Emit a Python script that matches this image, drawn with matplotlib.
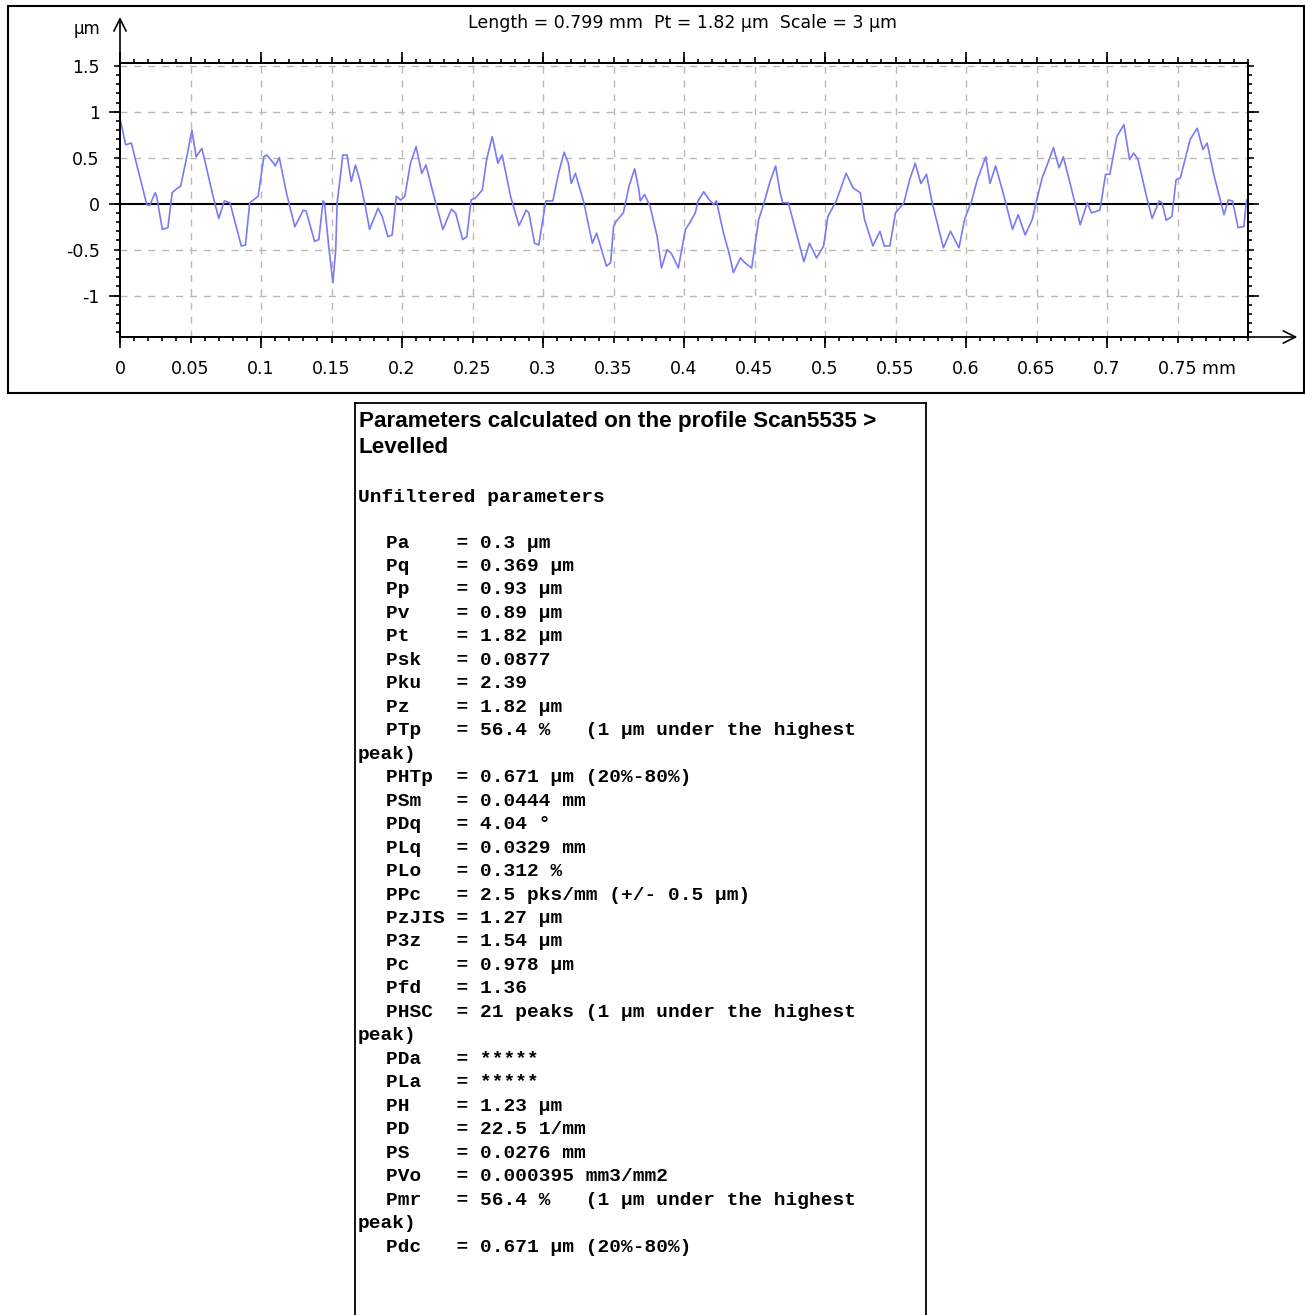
import matplotlib
matplotlib.use("Agg")
import matplotlib.pyplot as plt
from matplotlib.lines import Line2D
from matplotlib.ticker import MultipleLocator
from matplotlib.transforms import ScaledTranslation

W, H = 1305, 1315

# profile (mm, um)
profile_x = [
    0.000, 0.004, 0.008, 0.019, 0.021, 0.025, 0.026, 0.030, 0.034, 0.037,
    0.040, 0.043, 0.047, 0.051, 0.054, 0.058, 0.060, 0.066, 0.070, 0.074,
    0.078, 0.086, 0.089, 0.092, 0.098, 0.102, 0.104, 0.109, 0.110, 0.113,
    0.118, 0.124, 0.130, 0.132, 0.138, 0.141, 0.144, 0.145, 0.148, 0.151,
    0.153, 0.154, 0.156, 0.158, 0.161, 0.164, 0.167, 0.170, 0.174, 0.177,
    0.183, 0.186, 0.190, 0.193, 0.196, 0.199, 0.202, 0.206, 0.210, 0.214,
    0.217, 0.222, 0.229, 0.235, 0.238, 0.243, 0.246, 0.249, 0.252, 0.257,
    0.260, 0.264, 0.268, 0.271, 0.277, 0.283, 0.288, 0.290, 0.294, 0.297,
    0.302, 0.307, 0.311, 0.315, 0.318, 0.320, 0.323, 0.329, 0.333, 0.335,
    0.338, 0.345, 0.348, 0.350, 0.352, 0.357, 0.361, 0.365, 0.368, 0.369,
    0.372, 0.376, 0.381, 0.384, 0.388, 0.391, 0.396, 0.401, 0.404, 0.408,
    0.410, 0.414, 0.418, 0.421, 0.423, 0.428, 0.432, 0.435, 0.440, 0.443,
    0.448, 0.453, 0.456, 0.461, 0.465, 0.468, 0.470, 0.474, 0.479, 0.485,
    0.489, 0.494, 0.499, 0.502, 0.508, 0.515, 0.520, 0.525, 0.528, 0.534,
    0.539, 0.542, 0.546, 0.550, 0.556, 0.560, 0.564, 0.568, 0.572, 0.576,
    0.584, 0.589, 0.595, 0.599, 0.604, 0.608, 0.614, 0.617, 0.621, 0.627,
    0.633, 0.637, 0.642, 0.647, 0.650, 0.654, 0.659, 0.662, 0.666, 0.669,
    0.675, 0.681, 0.686, 0.689, 0.695, 0.699, 0.702, 0.707, 0.712, 0.716,
    0.719, 0.722, 0.728, 0.732, 0.737, 0.739, 0.742, 0.746, 0.749, 0.752,
    0.759, 0.764, 0.768, 0.771, 0.776, 0.783, 0.786, 0.789, 0.793, 0.797,
    0.799,
]
profile_y = [
    0.93, 0.64, 0.66, -0.01, -0.02, 0.12, 0.08, -0.28, -0.26, 0.12,
    0.16, 0.19, 0.48, 0.80, 0.51, 0.60, 0.48, 0.08, -0.16, 0.03,
    0.01, -0.46, -0.45, 0.01, 0.08, 0.51, 0.53, 0.44, 0.41, 0.50,
    0.12, -0.25, -0.07, -0.08, -0.41, -0.39, 0.03, 0.01, -0.46, -0.86,
    -0.50, 0.01, 0.26, 0.53, 0.53, 0.24, 0.42, 0.26, -0.03, -0.28,
    -0.05, -0.14, -0.36, -0.34, 0.08, 0.04, 0.08, 0.44, 0.62, 0.33,
    0.42, 0.12, -0.28, -0.06, -0.10, -0.39, -0.36, 0.04, 0.06, 0.15,
    0.48, 0.73, 0.44, 0.53, 0.08, -0.24, -0.07, -0.10, -0.43, -0.45,
    0.03, 0.03, 0.33, 0.56, 0.44, 0.22, 0.33, 0.01, -0.28, -0.43,
    -0.32, -0.68, -0.64, -0.25, -0.19, -0.10, 0.19, 0.38, 0.15, 0.03,
    0.10, -0.03, -0.36, -0.70, -0.50, -0.54, -0.70, -0.28, -0.21, -0.10,
    0.03, 0.13, 0.04, -0.01, 0.03, -0.32, -0.54, -0.75, -0.59, -0.64,
    -0.70, -0.17, -0.03, 0.24, 0.41, 0.13, 0.01, 0.01, -0.28, -0.63,
    -0.43, -0.59, -0.46, -0.14, 0.03, 0.33, 0.17, 0.12, -0.17, -0.46,
    -0.30, -0.46, -0.46, -0.10, 0.01, 0.26, 0.44, 0.22, 0.32, 0.01,
    -0.48, -0.30, -0.48, -0.17, 0.03, 0.26, 0.51, 0.22, 0.41, 0.08,
    -0.28, -0.12, -0.34, -0.17, 0.03, 0.28, 0.48, 0.61, 0.39, 0.51,
    0.15, -0.23, 0.01, -0.10, -0.07, 0.32, 0.32, 0.73, 0.86, 0.48,
    0.55, 0.48, 0.08, -0.16, 0.03, 0.01, -0.18, -0.14, 0.26, 0.28,
    0.70, 0.82, 0.59, 0.66, 0.30, -0.12, 0.04, 0.03, -0.26, -0.25,
    0.04,
]

x_ticks = [0, 0.05, 0.1, 0.15, 0.2, 0.25, 0.3, 0.35, 0.4, 0.45, 0.5,
           0.55, 0.6, 0.65, 0.7, 0.75]
x_tick_labels = ["0", "0.05", "0.1", "0.15", "0.2", "0.25", "0.3", "0.35",
                 "0.4", "0.45", "0.5", "0.55", "0.6", "0.65", "0.7", "0.75 mm"]
x_long_ticks = [0, 0.1, 0.2, 0.3, 0.4, 0.5, 0.6, 0.7]
y_ticks = [-1, -0.5, 0, 0.5, 1, 1.5]
y_tick_labels = ["-1", "-0.5", "0", "0.5", "1", "1.5"]
y_long_ticks = [-1, 0, 1]

header = "Length = 0.799 mm  Pt = 1.82 µm  Scale = 3 µm"

box_title = ["Parameters calculated on the profile Scan5535 >", "Levelled"]
section = "Unfiltered parameters"
param_names = ["Pa", "Pq", "Pp", "Pv", "Pt", "Psk", "Pku", "Pz", "PTp",
               "PHTp", "PSm", "PDq", "PLq", "PLo", "PPc", "PzJIS", "P3z",
               "Pc", "Pfd", "PHSC", "PDa", "PLa", "PH", "PD", "PS", "PVo",
               "Pmr", "Pdc"]
param_values = ["0.3 µm", "0.369 µm", "0.93 µm", "0.89 µm", "1.82 µm",
                "0.0877", "2.39", "1.82 µm",
                "56.4 %   (1 µm under the highest peak)",
                "0.671 µm (20%-80%)", "0.0444 mm", "4.04 °", "0.0329 mm",
                "0.312 %", "2.5 pks/mm (+/- 0.5 µm)", "1.27 µm", "1.54 µm",
                "0.978 µm", "1.36",
                "21 peaks (1 µm under the highest peak)",
                "*****", "*****", "1.23 µm", "22.5 1/mm", "0.0276 mm",
                "0.000395 mm3/mm2",
                "56.4 %   (1 µm under the highest peak)",
                "0.671 µm (20%-80%)"]


def fx(px):
    return px / W


def fy(py):
    return 1 - py / H


fig = plt.figure(figsize=(W / 100, H / 100), dpi=100)
fig.patch.set_facecolor("white")

# frame around the profile panel
fig.add_artist(plt.Rectangle((fx(8), fy(393)), fx(1304) - fx(8), fy(6) - fy(393),
                             fill=False, ec="black", lw=1.5,
                             transform=fig.transFigure))

ax = fig.add_axes([fx(120), fy(337), (1248 - 120) / W, (337 - 63) / H])
ax_x = ax.twiny()
ax_y = ax.twinx()

xlim = (0, 0.8)
ylim = (-1.45, 1.53)
for a in (ax, ax_x, ax_y):
    a.set_xlim(xlim)
    a.set_ylim(ylim)

ax.plot(profile_x, profile_y, color="#7a7af2", lw=1.2, zorder=3)
ax.axhline(0, color="black", lw=1.5, zorder=2)

grid_kw = dict(color="#b8b8b8", lw=1.0, ls=(0, (5, 5)), zorder=1)
for gx in x_ticks[1:]:
    ax.axvline(gx, **grid_kw)
for gy in y_ticks:
    if gy != 0:
        ax.axhline(gy, **grid_kw)

ax.set_xticks(x_ticks, labels=x_tick_labels)
ax.set_yticks(y_ticks, labels=y_tick_labels)
ax.xaxis.set_minor_locator(MultipleLocator(0.01))
ax.yaxis.set_minor_locator(MultipleLocator(0.1))
ax.tick_params(axis="x", which="major", direction="out", top=True, bottom=True,
               length=4.5, width=1.2, pad=12, labelsize=12.5)
ax.tick_params(axis="x", which="minor", direction="out", top=True, bottom=True,
               length=2.8, width=1.2)
ax.tick_params(axis="y", which="major", direction="out", left=True, right=True,
               length=4.5, width=1.2, pad=10, labelsize=12.5)
ax.tick_params(axis="y", which="minor", direction="out", left=True, right=True,
               length=2.8, width=1.2)

ax_x.set_xticks(x_long_ticks)
ax_x.tick_params(axis="x", direction="out", top=True, bottom=True,
                 labeltop=False, labelbottom=False, length=8, width=1.2)
ax_y.set_yticks(y_long_ticks)
ax_y.tick_params(axis="y", direction="out", left=True, right=True,
                 labelleft=False, labelright=False, length=8, width=1.2)

for a in (ax, ax_x, ax_y):
    for s in a.spines.values():
        s.set_linewidth(1.3)

last = ax.get_xticklabels()[-1]
last.set_horizontalalignment("left")
last.set_transform(last.get_transform()
                   + ScaledTranslation(-0.2, 0, fig.dpi_scale_trans))

# axis arrows
ax.annotate("", xy=(0, 2.03), xytext=(0, ylim[1]), xycoords="data",
            arrowprops=dict(arrowstyle="->", lw=1.2, color="black",
                            mutation_scale=22, shrinkA=0, shrinkB=0),
            annotation_clip=False)
ax.annotate("", xy=(0.835, ylim[0]), xytext=(xlim[1], ylim[0]), xycoords="data",
            arrowprops=dict(arrowstyle="->", lw=1.2, color="black",
                            mutation_scale=22, shrinkA=0, shrinkB=0),
            annotation_clip=False)

fig.text(fx(87), fy(29), "µm", fontsize=12, ha="center", va="center")
fig.text(fx(683), fy(23), header, fontsize=12.5, ha="center", va="center")

# parameter box
box_kw = dict(color="black", lw=1.3, transform=fig.transFigure)
fig.add_artist(Line2D([fx(355), fx(355)], [fy(403), 0], **box_kw))
fig.add_artist(Line2D([fx(926), fx(926)], [fy(403), 0], **box_kw))
fig.add_artist(Line2D([fx(355), fx(926)], [fy(403), fy(403)], **box_kw))

for i, line in enumerate(box_title):
    fig.text(fx(359), fy(421 + 27 * i), line, fontsize=16.2, fontweight="bold",
             family="Liberation Sans", ha="left", va="center")

mono = dict(family="Liberation Mono", fontsize=14.0, fontweight="bold",
            ha="left", va="center")
fig.text(fx(358), fy(497), section, **mono)

rows = []
for name, value in zip(param_names, param_values):
    text = f"{name:<6}= {value}"
    if text.endswith(" peak)"):
        rows.append((386, text[:-6]))
        rows.append((358, "peak)"))
    else:
        rows.append((386, text))

for i, (x0, text) in enumerate(rows):
    fig.text(fx(x0), fy(543 + 23.47 * i), text, **mono)

fig.savefig("out.png", dpi=100)
